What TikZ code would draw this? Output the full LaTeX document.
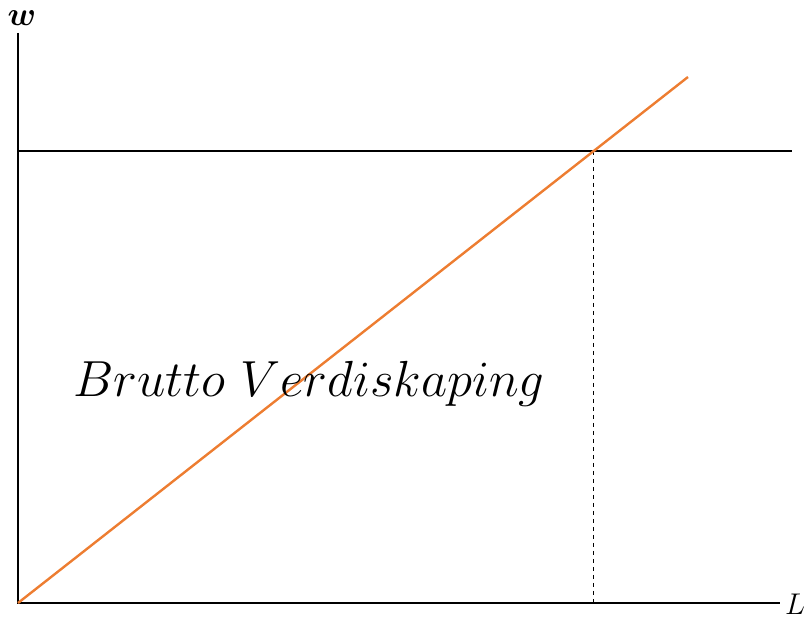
\documentclass[tikz,border=0pt]{standalone}
\usepackage{amsmath}
\usepackage{bm}
\usetikzlibrary{positioning}
\definecolor{kurveorange}{RGB}{237,125,49}
\begin{document}
\begin{tikzpicture}[x=0.75pt,y=0.75pt,
  akse/.style={line width=1.8pt},
  kurve/.style={line width=1.8pt,color=kurveorange},
  hjelpelinje/.style={dashed,line width=0.7pt},
  akselabel/.style={inner sep=0pt}]
  \useasboundingbox (0,0) rectangle (808,620);
  \coordinate (origo) at (18,17);
  \coordinate (wtopp) at (18,587);
  \coordinate (lslutt) at (780,17);
  \coordinate (nivaa start) at (18,469);
  \coordinate (nivaa slutt) at (792,469);
  \coordinate (kurveslutt) at (688,543);
  \coordinate (skjaering) at (593.5,469);
  \coordinate (skjaering fot) at (593.5,17);
  \draw[akse] (wtopp) -- (origo) -- (lslutt);
  \node[akselabel] (w) at (22,602) {\Huge$\bm{w}$};
  \node[akselabel,scale=1.3] (L) at (795,16) {\LARGE$L$};
  \draw[akse] (nivaa start) -- (nivaa slutt);
  \draw[hjelpelinje] (skjaering) -- (skjaering fot);
  \draw[kurve] (origo) -- (kurveslutt);
  \node[anchor=base west,inner sep=0pt,scale=1.53] (tekst) at (73,223)
    {\Huge$Brutto\ Verdiskaping$};
\end{tikzpicture}
\end{document}
